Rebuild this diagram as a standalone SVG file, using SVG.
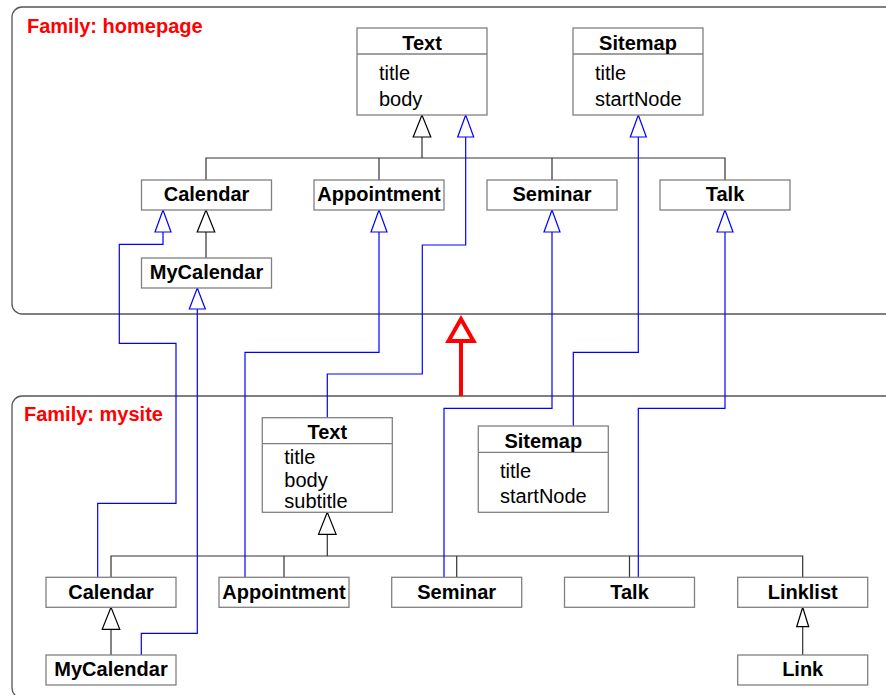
<svg xmlns="http://www.w3.org/2000/svg" width="886" height="695" viewBox="0 0 886 695">
<style>
.frame{fill:none;stroke:#555;stroke-width:1.3}
.fam{font-family:"Liberation Sans",Arial,sans-serif;font-size:20px;font-weight:bold;fill:#f00}
.box{fill:#fff;stroke:#808080;stroke-width:1.3}
.t{font-family:"Liberation Sans",Arial,sans-serif;font-size:20px;font-weight:bold;text-anchor:middle;fill:#000}
.a{font-family:"Liberation Sans",Arial,sans-serif;font-size:20px;fill:#000}
.inh{fill:none;stroke:#333;stroke-width:1.2}
.blue{fill:none;stroke:#00f;stroke-width:1.2}
.tri{fill:#fff;stroke:#000;stroke-width:1.2}
.btri{fill:#fff;stroke:#00f;stroke-width:1.2}
.red{fill:none;stroke:#f00;stroke-width:4}
.redtri{fill:#fff;stroke:#f00;stroke-width:4}
</style>
<rect width="886" height="695" fill="#fff"/>
<g id="family-homepage">
<rect class="frame" x="12" y="7" width="900" height="307" rx="10"/>
<text class="fam" x="27" y="33">Family: homepage</text>
</g>
<g id="family-mysite">
<rect class="frame" x="12" y="396" width="900" height="302" rx="10"/>
<text class="fam" x="24" y="421">Family: mysite</text>
</g>
<g id="connectors">
<path class="inh" d="M206,180 V158 H725 V180 M379,158 V180 M552,158 V180 M422,158 V137 M206,258 V232"/>
<polygon class="tri" points="422,115 413.2,137 430.8,137"/>
<polygon class="tri" points="206,210 197.2,232 214.8,232"/>
<path class="inh" d="M111,577 V556 H802.7 V577 M284,556 V577 M456.7,556 V577 M629.5,556 V577 M327.3,556 V534.3 M111,655 V629.3 M802.7,655 V626.7"/>
<polygon class="tri" points="327.3,512.3 318.5,534.3 336.1,534.3"/>
<polygon class="tri" points="111,607.3 102.2,629.3 119.8,629.3"/>
<polygon class="tri" points="802.7,607.3 796.7,626.7 808.7,626.7"/>
<path class="blue" d="M97.7,577 V503.3 H176 V343.3 H119.3 V244.3 H163 V232"/>
<polygon class="btri" points="163,210 155,232 171,232"/>
<path class="blue" d="M141.3,655 V633.3 H197.3 V309"/>
<polygon class="btri" points="197.3,288 189.3,309 205.3,309"/>
<path class="blue" d="M245,577 V352.3 H379 V232"/>
<polygon class="btri" points="379,210 371,232 387,232"/>
<path class="blue" d="M327.3,418 V374 H422.3 V245 H465.7 V137"/>
<polygon class="btri" points="465.7,115 457.7,137 473.7,137"/>
<path class="blue" d="M444,577 V408.3 H552 V232"/>
<polygon class="btri" points="552,210 544,232 560,232"/>
<path class="blue" d="M573.3,426 V352.3 H638.3 V137"/>
<polygon class="btri" points="638.3,115 630.3,137 646.3,137"/>
<path class="blue" d="M638.3,577 V408.3 H725 V232"/>
<polygon class="btri" points="725,210 717,232 733,232"/>
<path class="red" d="M461,396 V341"/>
<polygon class="redtri" points="461,319 448.5,341 473.5,341"/>
</g>
<g id="hp-text">
<rect class="box" x="357" y="28" width="130" height="87"/>
<line class="box" x1="357" y1="54" x2="487" y2="54"/>
<text class="t" x="422" y="50">Text</text>
<text class="a" x="379" y="80">title</text>
<text class="a" x="379" y="106">body</text>
</g>
<g id="hp-sitemap">
<rect class="box" x="573" y="28" width="130" height="87"/>
<line class="box" x1="573" y1="54" x2="703" y2="54"/>
<text class="t" x="638" y="50">Sitemap</text>
<text class="a" x="595" y="80">title</text>
<text class="a" x="595" y="106">startNode</text>
</g>
<g id="hp-calendar">
<rect class="box" x="141.5" y="180" width="130" height="30"/>
<text class="t" x="206.5" y="201">Calendar</text>
</g>
<g id="hp-mycalendar">
<rect class="box" x="141.5" y="258" width="130" height="30"/>
<text class="t" x="206.5" y="279">MyCalendar</text>
</g>
<g id="hp-appointment">
<rect class="box" x="314" y="180" width="130" height="30"/>
<text class="t" x="379" y="201">Appointment</text>
</g>
<g id="hp-seminar">
<rect class="box" x="487" y="180" width="130" height="30"/>
<text class="t" x="552" y="201">Seminar</text>
</g>
<g id="hp-talk">
<rect class="box" x="660" y="180" width="130" height="30"/>
<text class="t" x="725" y="201">Talk</text>
</g>
<g id="ms-text">
<rect class="box" x="262.3" y="417.7" width="130" height="94.6"/>
<line class="box" x1="262.3" y1="443.7" x2="392.3" y2="443.7"/>
<text class="t" x="327.3" y="439">Text</text>
<text class="a" x="284.3" y="464.3">title</text>
<text class="a" x="284.3" y="486.5">body</text>
<text class="a" x="284.3" y="507.5">subtitle</text>
</g>
<g id="ms-sitemap">
<rect class="box" x="478.3" y="426" width="130" height="86.3"/>
<line class="box" x1="478.3" y1="452.3" x2="608.3" y2="452.3"/>
<text class="t" x="543.3" y="447.7">Sitemap</text>
<text class="a" x="500" y="477.7">title</text>
<text class="a" x="500" y="503.3">startNode</text>
</g>
<g id="ms-calendar">
<rect class="box" x="46" y="577.3" width="130" height="30"/>
<text class="t" x="111" y="598.5">Calendar</text>
</g>
<g id="ms-mycalendar">
<rect class="box" x="46" y="655" width="130" height="30"/>
<text class="t" x="111" y="676.2">MyCalendar</text>
</g>
<g id="ms-appointment">
<rect class="box" x="219" y="577.3" width="130" height="30"/>
<text class="t" x="284" y="598.5">Appointment</text>
</g>
<g id="ms-seminar">
<rect class="box" x="391.7" y="577.3" width="130" height="30"/>
<text class="t" x="456.7" y="598.5">Seminar</text>
</g>
<g id="ms-talk">
<rect class="box" x="564.5" y="577.3" width="130" height="30"/>
<text class="t" x="629.5" y="598.5">Talk</text>
</g>
<g id="ms-linklist">
<rect class="box" x="737.7" y="577.3" width="130" height="30"/>
<text class="t" x="802.7" y="598.5">Linklist</text>
</g>
<g id="ms-link">
<rect class="box" x="737.7" y="655" width="130" height="30"/>
<text class="t" x="802.7" y="676.2">Link</text>
</g>
</svg>
